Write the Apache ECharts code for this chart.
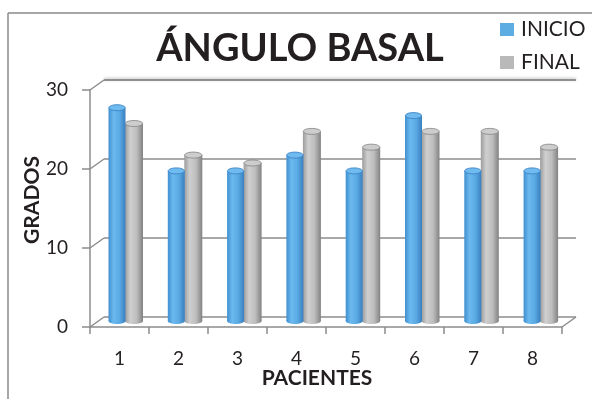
<!DOCTYPE html>
<html>
<head>
<meta charset="utf-8">
<script src="https://cdn.jsdelivr.net/npm/echarts@6/dist/echarts.min.js"></script>
<style>
  html, body { margin: 0; padding: 0; background: #ffffff; }
  #chart { width: 592px; height: 399px; }
</style>
</head>
<body>
<div id="chart"></div>
<script>
// Ángulo basal por paciente, al inicio y al final
const categories = ['1', '2', '3', '4', '5', '6', '7', '8'];
const inicio = [27, 19, 19, 21, 19, 26, 19, 19];
const final = [25, 21, 20, 24, 22, 24, 24, 22];
const yTicks = [0, 10, 20, 30];
const seriesNames = ['INICIO', 'FINAL'];

const FONT = 'Lato, "Open Sans", sans-serif';
const TEXT = '#231f20';
const LINE = '#8c8c8c';
// depth of the pseudo-3D floor/back wall, in pixels
const DX = 14, DY = -10;

const chart = echarts.init(document.getElementById('chart'), null, { renderer: 'canvas' });

// Draws one cylinder column standing on the floor, mid-depth
function cylinder(style) {
  return function (params, api) {
    const i = api.value(0);
    const v = api.value(1);
    const base = api.coord([i, 0]);
    const top = api.coord([i, v]);
    const left = base[0] - 11 + 0.3 * i + style.shift;
    const w = style.width;
    const yBase = base[1] - 6;
    const yTop = top[1] - 6;
    const ry = 3;
    const grad = new echarts.graphic.LinearGradient(0, 0, 1, 0, style.stops);
    return {
      type: 'group',
      children: [
        { type: 'ellipse', shape: { cx: left + w / 2, cy: yBase, rx: w / 2, ry: ry },
          style: { fill: grad } },
        { type: 'rect', shape: { x: left, y: yTop, width: w, height: yBase - yTop },
          style: { fill: grad } },
        { type: 'ellipse', shape: { cx: left + w / 2, cy: yTop, rx: w / 2 - 0.4, ry: ry },
          style: { fill: style.cap, stroke: style.capEdge, lineWidth: 0.9 } }
      ]
    };
  };
}

// Back wall grid lines, floor edges and the receding tick lines
function frame(params, api) {
  const v = api.value(1);
  const band = api.size([1, 0])[0];
  const p = api.coord([0, v]);
  const x0 = p[0] - band / 2;
  const x1 = x0 + band * categories.length;
  const y = p[1];
  const st = { stroke: LINE, lineWidth: 1.5, fill: null };
  const children = [
    { type: 'line', shape: { x1: x0, y1: y, x2: x0 + DX, y2: y + DY }, style: st },
    { type: 'line', shape: { x1: x0 + DX, y1: y + DY, x2: x1 + DX, y2: y + DY },
      style: v === yTicks[yTicks.length - 1]
        ? { stroke: '#909090', lineWidth: 2, shadowBlur: 3, shadowColor: 'rgba(0,0,0,0.25)', shadowOffsetY: -1 }
        : st }
  ];
  if (v === 0) {
    children.push({ type: 'line', shape: { x1: x1, y1: y, x2: x1 + DX, y2: y + DY }, style: st });
  }
  return { type: 'group', children: children };
}

const option = {
  backgroundColor: '#ffffff',
  animation: false,
  grid: { left: 90, right: 30, top: 90, bottom: 72 },
  legend: {
    data: seriesNames,
    orient: 'vertical',
    left: 495,
    top: 14,
    icon: 'rect',
    itemWidth: 14,
    itemHeight: 13,
    itemGap: 12,
    textStyle: { fontFamily: FONT, fontSize: 21, color: TEXT, padding: [0, 0, 0, 2] }
  },
  xAxis: {
    type: 'category',
    data: categories,
    axisLine: { lineStyle: { color: LINE, width: 1.5 } },
    axisTick: { show: true, length: 7, lineStyle: { color: LINE, width: 1.5 } },
    axisLabel: { fontFamily: FONT, fontSize: 19, color: TEXT, margin: 22 },
    splitLine: { show: false }
  },
  yAxis: {
    type: 'value',
    min: 0,
    max: 30,
    interval: 10,
    axisLine: { show: true, lineStyle: { color: LINE, width: 1.5 } },
    axisTick: { show: true, length: 8, lineStyle: { color: LINE, width: 1.5 } },
    axisLabel: { fontFamily: FONT, fontSize: 19, color: TEXT, margin: 22 },
    splitLine: { show: false }
  },
  graphic: [
    { type: 'line', shape: { x1: 8, y1: 13, x2: 592, y2: 13 }, style: { stroke: '#8a8a8a', lineWidth: 1.5 } },
    { type: 'line', shape: { x1: 8, y1: 13, x2: 8, y2: 399 }, style: { stroke: '#8a8a8a', lineWidth: 1.5 } },
    { type: 'text', x: 300, y: 49,
      style: { text: 'ÁNGULO BASAL', font: 'bold 38px ' + FONT, fill: TEXT, textAlign: 'center', textVerticalAlign: 'middle' } },
    { type: 'text', x: 317, y: 378,
      style: { text: 'PACIENTES', font: 'bold 21px ' + FONT, fill: TEXT, textAlign: 'center', textVerticalAlign: 'middle' } },
    { type: 'text', x: 32, y: 200, rotation: Math.PI / 2,
      style: { text: 'GRADOS', font: 'bold 21px ' + FONT, fill: TEXT, textAlign: 'center', textVerticalAlign: 'middle' } }
  ],
  series: [
    {
      type: 'custom',
      name: 'frame',
      silent: true,
      z: 1,
      renderItem: frame,
      data: yTicks.map(function (t) { return [0, t]; })
    },
    {
      type: 'custom',
      name: seriesNames[1],
      z: 2,
      itemStyle: { color: '#b9b9b9' },
      renderItem: cylinder({
        shift: 16.5, width: 18,
        stops: [
          { offset: 0, color: '#9c9c9c' },
          { offset: 0.3, color: '#cfcfcf' },
          { offset: 0.65, color: '#bdbdbd' },
          { offset: 1, color: '#828282' }
        ],
        cap: '#cdcdcd', capEdge: '#8a8a8a'
      }),
      data: final.map(function (v, i) { return [i, v]; })
    },
    {
      type: 'custom',
      name: seriesNames[0],
      z: 3,
      itemStyle: { color: '#5dade2' },
      renderItem: cylinder({
        shift: 0, width: 17,
        stops: [
          { offset: 0, color: '#3f8fd0' },
          { offset: 0.3, color: '#6bb9ee' },
          { offset: 0.65, color: '#5aaae4' },
          { offset: 1, color: '#3a7fbf' }
        ],
        cap: '#6fbaee', capEdge: '#3b83c6'
      }),
      data: inicio.map(function (v, i) { return [i, v]; })
    }
  ]
};

chart.setOption(option);
</script>
</body>
</html>
